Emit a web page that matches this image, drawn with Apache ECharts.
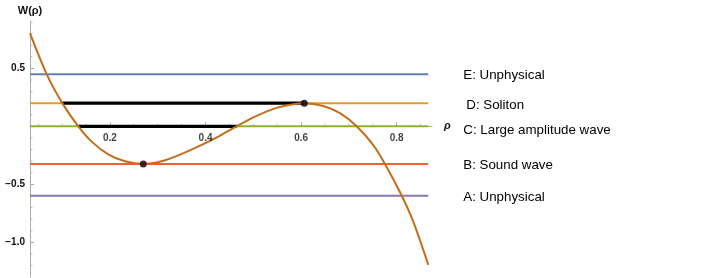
<!DOCTYPE html>
<html><head><meta charset="utf-8">
<script src="https://cdn.jsdelivr.net/npm/echarts@6/dist/echarts.min.js"></script>
<style>html,body{margin:0;padding:0;background:#fff}#c{width:708px;height:278px}</style>
</head><body><div id="c"></div>
<script>
// ---- data ----
const rho = [0.0326, 0.0675, 0.1002, 0.1337, 0.1617, 0.1964, 0.2314, 0.2697, 0.3082, 0.3501, 0.3919, 0.4267, 0.4652, 0.5035, 0.5454, 0.5803, 0.6067, 0.6464, 0.6814, 0.7163, 0.7511, 0.7756, 0.8105, 0.8348, 0.8662];
const W   = [0.804, 0.450, 0.200, 0.000, -0.132, -0.242, -0.302, -0.325, -0.301, -0.238, -0.160, -0.088, 0.000, 0.083, 0.155, 0.188, 0.200, 0.175, 0.113, 0.000, -0.162, -0.325, -0.597, -0.823, -1.195];
const levelNames  = ['E: Unphysical', 'D: Soliton', 'C: Large amplitude wave', 'B: Sound wave', 'A: Unphysical'];
const levelValues = [0.45, 0.2, 0, -0.325, -0.6];
const domain = [0.0326, 0.8662];
const solitonSegment = [0.1002, 0.6067];   // at level D
const largeWaveSegment = [0.1337, 0.4652]; // at level C
const extremaX = [0.2697, 0.6067];
const extremaY = [-0.325, 0.2];
const xMajorTicks = [0.2, 0.4, 0.6, 0.8];
const xMinorTicks = [0.05, 0.1, 0.15, 0.25, 0.3, 0.35, 0.45, 0.5, 0.55, 0.65, 0.7, 0.75, 0.85];
const yMajorTicks = [-1.0, -0.5, 0.5];
const yMinorTicks = [-1.2, -1.1, -0.9, -0.8, -0.7, -0.6, -0.4, -0.3, -0.2, -0.1, 0.1, 0.2, 0.3, 0.4, 0.6, 0.7, 0.8, 0.9];

// ---- styles ----
const levelColors = ['#5E81B5', '#E19C24', '#8FB032', '#EB6235', '#8778B3'];
const levelLabelOffsets = [[0, 1.5], [3, 2.5], [0, 4.5], [0, 1.5], [0, 1.5]];
const FONT = 'Liberation Sans, Arial, sans-serif';
const axisGray = '#aaaaaa';
const X_MIN = 0.0326, X_MAX = 0.874, Y_MIN = -1.3, Y_MAX = 0.9;

const fmt = v => (v < 0 ? '\u2212' : '') + Math.abs(v).toFixed(1);
const tickLabel = {fontSize: 10, fontWeight: 'bold', color: '#111', fontFamily: FONT};

const series = [];
levelValues.forEach((v, i) => {
  series.push({
    type: 'line', name: levelNames[i],
    data: [[domain[0], v], [domain[1], v]],
    symbol: 'none', z: 2,
    lineStyle: {color: levelColors[i], width: 2},
    endLabel: {show: true, formatter: levelNames[i], distance: 35, offset: levelLabelOffsets[i],
      fontSize: 13.33, color: '#000', fontFamily: FONT}
  });
});
series.push({
  type: 'line', data: [[solitonSegment[0], levelValues[1]], [solitonSegment[1], levelValues[1]]],
  symbol: 'none', z: 3, lineStyle: {color: '#000', width: 3.2}
});
series.push({
  type: 'line', data: [[largeWaveSegment[0], levelValues[2]], [largeWaveSegment[1], levelValues[2]]],
  symbol: 'none', z: 3, lineStyle: {color: '#000', width: 3.2}
});
series.push({
  type: 'line', data: rho.map((r, i) => [r, W[i]]), smooth: 0.3,
  symbol: 'none', z: 4, lineStyle: {color: '#C56E1A', width: 2}
});
series.push({
  type: 'scatter', data: extremaX.map((x, i) => [x, extremaY[i]]),
  symbolSize: 7, z: 5, itemStyle: {color: '#000'}
});
// minor ticks drawn as tiny marks on the axes
series.push({
  type: 'scatter', silent: true, clip: false, z: 1,
  data: xMinorTicks.map(v => [v, 0]),
  symbol: 'rect', symbolSize: [1, 2.5], symbolOffset: [0, '-50%'],
  itemStyle: {color: axisGray}
});
series.push({
  type: 'scatter', silent: true, clip: false, z: 1,
  data: yMinorTicks.map(v => [X_MIN, v]),
  symbol: 'rect', symbolSize: [2.5, 1], symbolOffset: ['50%', 0],
  itemStyle: {color: axisGray}
});
// x tick labels placed under the axis that runs through zero
series.push({
  type: 'scatter', silent: true, clip: false, z: 6,
  data: xMajorTicks.map(v => [v, 0]),
  symbol: 'circle', symbolSize: 1, itemStyle: {color: 'rgba(0,0,0,0)'},
  label: Object.assign({show: true, position: 'bottom', distance: 6.5,
    formatter: p => p.value[0].toFixed(1)}, tickLabel)
});

const chart = echarts.init(document.getElementById('c'), null, {renderer: 'canvas'});
chart.setOption({
  animation: false,
  backgroundColor: '#fff',
  grid: {left: 30, right: 276, top: 22, bottom: 1, containLabel: false, outerBoundsMode: 'none'},
  xAxis: {
    type: 'value', min: X_MIN, max: X_MAX, position: 'bottom',
    axisLine: {onZero: true, lineStyle: {color: axisGray, width: 1}},
    axisTick: {inside: true, length: 4, customValues: xMajorTicks, lineStyle: {color: axisGray}},
    axisLabel: {show: false},
    splitLine: {show: false},
    name: '\u03C1', nameLocation: 'end', nameGap: 12,
    nameTextStyle: {fontSize: 11, fontWeight: 'bold', fontStyle: 'italic', color: '#111', fontFamily: FONT}
  },
  yAxis: {
    type: 'value', min: Y_MIN, max: Y_MAX, position: 'left',
    axisLine: {show: true, onZero: false, lineStyle: {color: axisGray, width: 1}},
    axisTick: {inside: true, length: 4, customValues: yMajorTicks, lineStyle: {color: axisGray}},
    axisLabel: Object.assign({customValues: yMajorTicks, formatter: fmt, margin: 5}, tickLabel),
    splitLine: {show: false},
    name: 'W(\u03C1)', nameLocation: 'end', nameGap: 6,
    nameTextStyle: {fontSize: 11, fontWeight: 'bold', color: '#111', fontFamily: FONT, align: 'center'}
  },
  series: series
});
</script></body></html>
